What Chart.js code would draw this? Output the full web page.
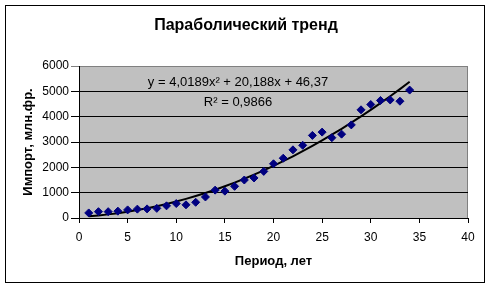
<!DOCTYPE html>
<html>
<head>
<meta charset="utf-8">
<script src="https://cdn.jsdelivr.net/npm/chart.js@4/dist/chart.umd.min.js"></script>
<style>
html,body{margin:0;padding:0;background:#fff;}
#wrap{position:relative;width:492px;height:288px;}
canvas{display:block;}
</style>
</head>
<body>
<div id="wrap"><canvas id="c" width="492" height="288"></canvas></div>
<script>
// ---- data ----
const chartTitle = "Параболический тренд";
const xAxisTitle = "Период, лет";
const yAxisTitle = "Импорт, млн.фр.";
const trendEquation = "y = 4,0189x² + 20,188x + 46,37";
const trendR2 = "R² = 0,9866";
const periods = [1,2,3,4,5,6,7,8,9,10,11,12,13,14,15,16,17,18,19,20,21,22,23,24,25,26,27,28,29,30,31,32,33,34];
const imports = [200,250,250,270,320,350,360,380,480,570,520,620,830,1100,1060,1250,1500,1580,1840,2140,2360,2690,2870,3260,3390,3170,3310,3675,4270,4480,4640,4660,4610,5050];
const trendValues = [71,103,143,191,247,312,385,465,554,650,755,868,988,1117,1253,1398,1551,1712,1881,2058,2243,2436,2637,2846,3063,3288,3521,3762,4011,4269,4534,4807,5088,5378];
const xTicks = [0,5,10,15,20,25,30,35,40];
const yTicks = [0,1000,2000,3000,4000,5000,6000];

const FONT = "'Liberation Sans', Arial, sans-serif";

const framePlugin = {
  id: 'frame',
  beforeDraw(chart) {
    const ctx = chart.ctx, a = chart.chartArea;
    ctx.save();
    ctx.fillStyle = '#fff';
    ctx.fillRect(0, 0, chart.width, chart.height);
    ctx.fillStyle = '#C0C0C0';
    ctx.fillRect(a.left, a.top, a.right - a.left, a.bottom - a.top);
    ctx.strokeStyle = '#808080';
    ctx.lineWidth = 1;
    ctx.strokeRect(a.left + 0.5, a.top + 0.5, a.right - a.left - 1, a.bottom - a.top);
    ctx.strokeStyle = '#000';
    ctx.strokeRect(5.5, 5.5, 479, 277);
    ctx.restore();
  },
  afterDraw(chart) {
    const ctx = chart.ctx, a = chart.chartArea;
    ctx.save();
    ctx.fillStyle = '#000';
    ctx.textAlign = 'center';
    ctx.textBaseline = 'middle';
    ctx.font = "bold 16px " + FONT;
    ctx.fillText(chartTitle, 246, 26);
    ctx.font = "bold 13px " + FONT;
    ctx.fillText(xAxisTitle, (a.left + a.right) / 2, 261);
    ctx.save();
    ctx.translate(28, (a.top + a.bottom) / 2);
    ctx.rotate(-Math.PI / 2);
    ctx.fillText(yAxisTitle, 0, 0);
    ctx.restore();
    ctx.font = "13px " + FONT;
    ctx.fillText(trendEquation, 238, 82);
    ctx.fillText(trendR2, 238, 102);
    ctx.restore();
  }
};

new Chart(document.getElementById('c'), {
  type: 'scatter',
  data: {
    datasets: [
      {
        type: 'line',
        label: 'trend',
        data: periods.map((p, i) => ({x: p, y: trendValues[i]})),
        borderColor: '#000',
        borderWidth: 2,
        pointRadius: 0,
        fill: false,
        tension: 0,
        order: 1
      },
      {
        label: 'imports',
        data: periods.map((p, i) => ({x: p, y: imports[i]})),
        pointStyle: 'rectRot',
        pointRadius: 4,
        backgroundColor: '#000080',
        borderColor: '#000080',
        borderWidth: 1,
        order: 0
      }
    ]
  },
  options: {
    responsive: false,
    animation: false,
    devicePixelRatio: 1,
    layout: {padding: {left: 0, top: 66, right: 24, bottom: 0}},
    plugins: {legend: {display: false}, tooltip: {enabled: false}, title: {display: false}},
    scales: {
      x: {
        type: 'linear', min: 0, max: 40,
        afterBuildTicks(s) { s.ticks = xTicks.map(v => ({value: v})); },
        afterFit(s) { s.height = 70; },
        grid: {drawOnChartArea: false, drawTicks: true, tickLength: 5, color: '#000'},
        border: {color: '#000', width: 1},
        ticks: {color: '#000', font: {family: FONT, size: 12}, padding: 7, maxRotation: 0,
                callback: v => String(v)}
      },
      y: {
        type: 'linear', min: 0, max: 6000,
        afterBuildTicks(s) { s.ticks = yTicks.map(v => ({value: v})); },
        afterFit(s) { s.width = 79; },
        grid: {drawOnChartArea: true, drawTicks: true, tickLength: 8,
               color: c => (c.tick && c.tick.value === 6000) ? '#808080' : '#000'},
        border: {color: '#000', width: 1},
        ticks: {color: '#000', font: {family: FONT, size: 12}, padding: 2,
                callback: v => String(v)}
      }
    }
  },
  plugins: [framePlugin]
});
</script>
</body>
</html>
